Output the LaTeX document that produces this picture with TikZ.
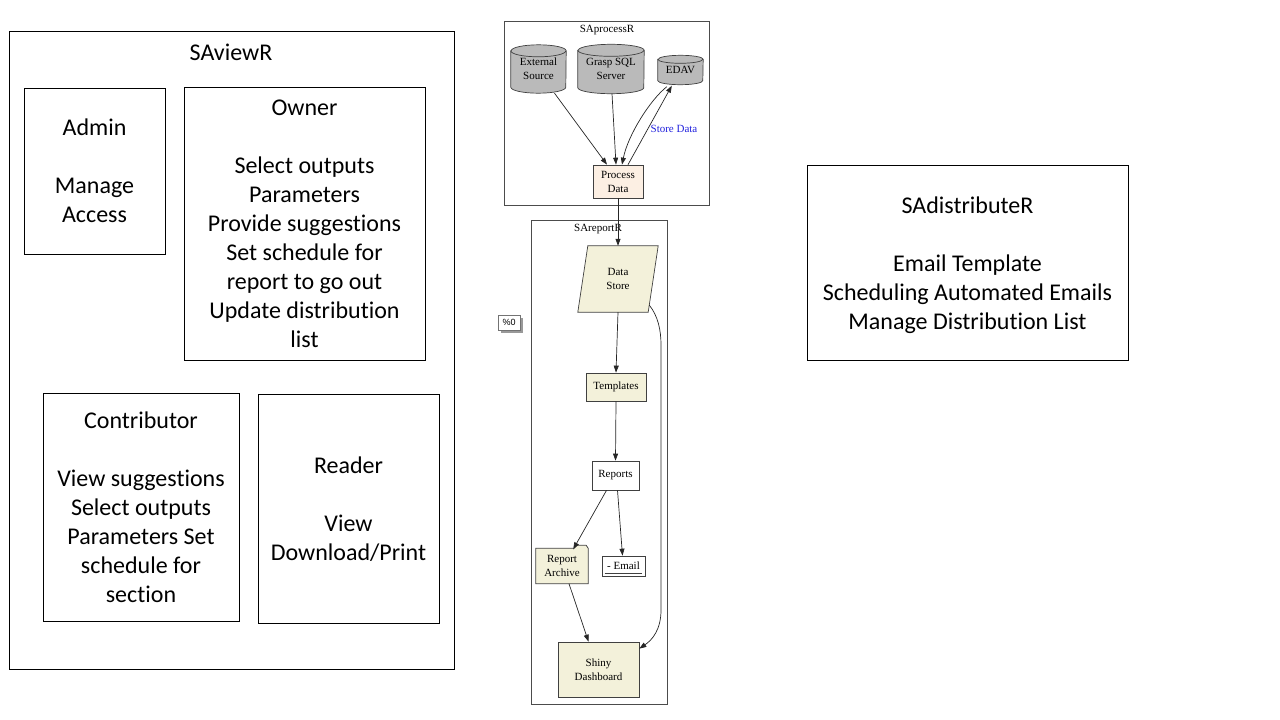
\documentclass[tikz,border=0pt]{standalone}
\usepackage{fontspec}
\setmainfont{Carlito}[Ligatures=NoCommon]
\newfontfamily\gvfont{Liberation Serif}
\newfontfamily\gvsans{Liberation Sans}
\usetikzlibrary{arrows.meta,calc,shapes.geometric,backgrounds}
\definecolor{beige}{HTML}{F3F1DA}
\definecolor{peach}{HTML}{FCEFE3}
\definecolor{storeblue}{HTML}{2222DD}
\begin{document}
\begin{tikzpicture}[x=1pt,y=-1pt,
  pbox/.style={draw=black, line width=0.9pt, align=center, font=\fontsize{24}{29}\selectfont, inner sep=0pt},
  ptitle/.style={font=\fontsize{24}{29}\selectfont, inner sep=0pt, align=center},
  cluster/.style={draw=black!70, line width=0.8pt, inner sep=0pt},
  gv/.style={font=\gvfont\fontsize{11}{14}\selectfont, align=center, inner sep=0pt},
  gvbox/.style={gv, draw=black!75, line width=0.7pt},
  cylfill/.style={draw=black!75, fill=black!27, line width=0.7pt},
  edge/.style={draw=black!85, line width=0.7pt, -{Triangle[length=7pt,width=5pt]}}
]
\useasboundingbox (0,0) rectangle (1280,720);

% ---------- SAviewR ----------
\node[pbox, minimum width=445, minimum height=638] (view) at (231.5,350) {};
\node[ptitle] (viewt) at (231,52) {SAviewR};
\node[pbox, minimum width=141, minimum height=166] (admin) at (94.5,171) {Admin\\[29pt]Manage\\Access};
\node[pbox, minimum width=241, minimum height=273] (owner) at (304.5,224) {Owner\\[29pt]Select outputs\\Parameters\\Provide suggestions\\Set schedule for\\report to go out\\Update distribution\\list};
\node[pbox, minimum width=196, minimum height=228] (contrib) at (141,507) {Contributor\\[29pt]View suggestions\\Select outputs\\Parameters Set\\schedule for\\section};
\node[pbox, minimum width=181, minimum height=229] (reader) at (348.5,509) {Reader\\[29pt]View\\Download/Print};

% ---------- SAdistributeR ----------
\node[pbox, minimum width=321, minimum height=195] (dist) at (967.5,262.5) {};
\node[ptitle] (distt) at (967.5,265.5) {SAdistributeR\\[29pt]Email Template\\Scheduling Automated Emails\\Manage Distribution List};

% ---------- SAprocessR ----------
\node[cluster, minimum width=205, minimum height=184] (proc) at (606.5,113) {};
\node[gv] (proct) at (607,30) {SAprocessR};
\node[gv, minimum width=55, minimum height=48] (ext) at (538.5,69) {External\\Source};
\node[gv, minimum width=66, minimum height=49] (sql) at (611,69) {Grasp SQL\\Server};
\node[gv, minimum width=45, minimum height=29] (edav) at (680.5,70) {EDAV};
\node[gvbox, fill=peach, minimum width=50, minimum height=33] (pd) at (618,181.5) {Process\\Data};
\node[gv, text=storeblue] (sd) at (674,129) {Store Data};

% ---------- SAreportR ----------
\node[cluster, minimum width=136, minimum height=484] (rep0) at (599,462) {};
\node[gv] (rept) at (598,229) {SAreportR};
\node[gv, minimum width=80, minimum height=66] (ds) at (618,279) {Data\\Store};
\node[gvbox, fill=beige, minimum width=60, minimum height=28] (tpl) at (616,387) {Templates};
\node[gvbox, fill=white, minimum width=47, minimum height=29] (rep) at (615.5,475.5) {Reports};
\node[gv, minimum width=52, minimum height=35] (arch) at (562,566) {Report\\Archive};
\node[gvbox, fill=white, minimum width=43, minimum height=20] (email) at (623.5,566) {- Email};
\node[gvbox, fill=beige, minimum width=81, minimum height=55] (shiny) at (598.5,669.5) {Shiny\\Dashboard};
\node[draw=black!55, fill=white, line width=0.6pt, minimum width=22, minimum height=15, inner sep=0pt, font=\gvsans\fontsize{9}{10}\selectfont] (pct) at (509,322.5) {\%0};

\begin{scope}[on background layer]
  % cylinders
  \path[cylfill] ($(ext.north west)+(0,6)$) -- ($(ext.south west)+(0,-6)$) arc[start angle=180,end angle=0,x radius=27.5,y radius=6] -- ($(ext.north east)+(0,6)$) arc[start angle=0,end angle=-180,x radius=27.5,y radius=6] -- cycle;
  \draw[cylfill, fill=none] ($(ext.north west)+(0,6)$) arc[start angle=180,end angle=0,x radius=27.5,y radius=6];
  \path[cylfill] ($(sql.north west)+(0,6)$) -- ($(sql.south west)+(0,-6)$) arc[start angle=180,end angle=0,x radius=33,y radius=6] -- ($(sql.north east)+(0,6)$) arc[start angle=0,end angle=-180,x radius=33,y radius=6] -- cycle;
  \draw[cylfill, fill=none] ($(sql.north west)+(0,6)$) arc[start angle=180,end angle=0,x radius=33,y radius=6];
  \path[cylfill] ($(edav.north west)+(0,4)$) -- ($(edav.south west)+(0,-4)$) arc[start angle=180,end angle=0,x radius=22.5,y radius=4] -- ($(edav.north east)+(0,4)$) arc[start angle=0,end angle=-180,x radius=22.5,y radius=4] -- cycle;
  \draw[cylfill, fill=none] ($(edav.north west)+(0,4)$) arc[start angle=180,end angle=0,x radius=22.5,y radius=4];
  % parallelogram
  \path[draw=black!75, fill=beige, line width=0.7pt] (ds.south west) -- ($(ds.north west)+(10,0)$) -- (ds.north east) -- ($(ds.south east)+(-10,0)$) -- cycle;
  % folder
  \path[draw=black!75, fill=beige, line width=0.7pt] (arch.south west) -- (arch.north west) -- ($(arch.north east)+(-14,0)$) -- ($(arch.north east)+(-12,-3)$) -- ($(arch.north east)+(-2,-3)$) -- (arch.north east) -- (arch.south east) -- cycle;
  % shadow of %0
  \fill[black!40] ($(pct.south west)+(3,3)$) rectangle ($(pct.north east)+(3,3)$);
\end{scope}
\draw[black!75, line width=0.7pt] ($(email.south west)+(3,-3)$) -- ($(email.south east)+(-3,-3)$);

% ---------- edges ----------
\draw[edge] ($(ext.south)+(16,0)$) -- ($(pd.north)+(-11,0)$);
\draw[edge] ($(sql.south)+(1,0)$) -- ($(pd.north)+(-2,0)$);
\draw[edge] ($(edav.south west)+(9,2)$) .. controls (650,100) and (628,135) .. ($(pd.north)+(4,0)$);
\draw[edge] ($(pd.north)+(10,0)$) -- ($(edav.south west)+(14,1)$);
\draw[edge] (pd.south) -- (ds.north);
\draw[edge] (ds.south) -- (tpl.north);
\draw[edge] (tpl.south) -- (rep.north);
\draw[edge] ($(rep.south)+(-9,0)$) -- ($(arch.north east)+(-15,1)$);
\draw[edge] ($(rep.south)+(2,0)$) -- ($(email.north)+(-1,0)$);
\draw[edge] ($(arch.south)+(7,0)$) -- ($(shiny.north)+(-10,0)$);
\draw[edge] ($(ds.east)+(-9,26)$) .. controls (658,316) and (661,330) .. (661,345) -- (661,610) .. controls (661,630) and (652,640) .. ($(shiny.north east)+(0,7)$);
\end{tikzpicture}
\end{document}
